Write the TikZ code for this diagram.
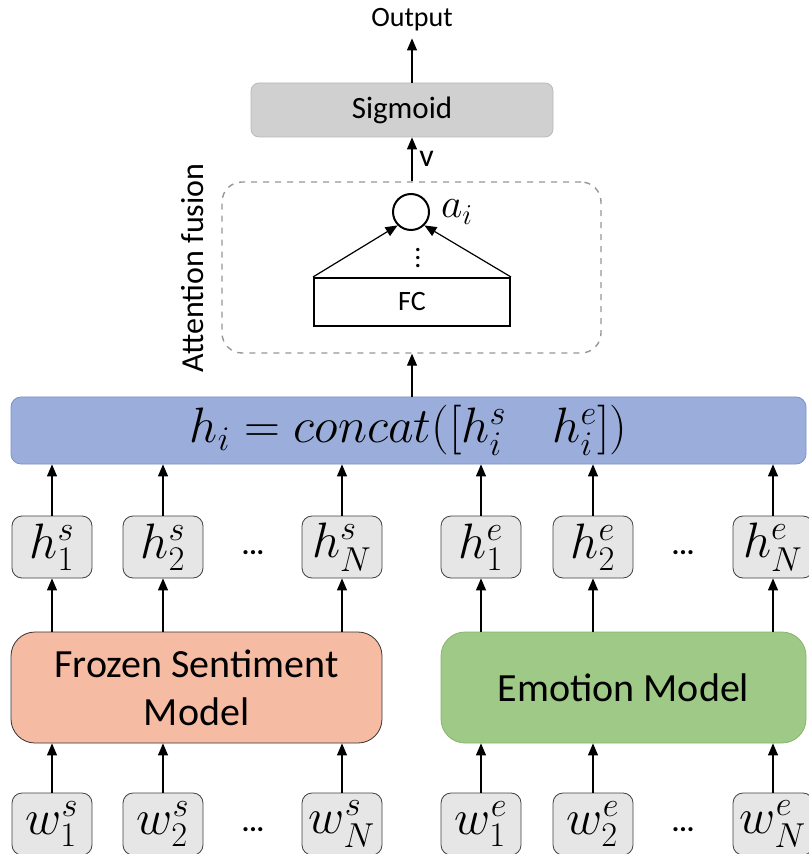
\documentclass[tikz,border=0pt]{standalone}
\usepackage{fontspec}
\setmainfont{Carlito}
\usepackage{amsmath}
\usepackage{tikz}
\usetikzlibrary{arrows, arrows.meta, shapes}

\definecolor{sigfill}{RGB}{208,208,208}
\definecolor{sigline}{RGB}{185,185,185}
\definecolor{catfill}{RGB}{155,174,219}
\definecolor{catline}{RGB}{120,145,205}
\definecolor{sentfill}{RGB}{246,187,163}
\definecolor{emofill}{RGB}{158,201,134}
\definecolor{emoline}{RGB}{135,180,110}
\definecolor{vecfill}{RGB}{230,230,230}
\definecolor{fuseline}{RGB}{150,150,150}

\begin{document}
\begin{tikzpicture}[x=0.5pt,y=-0.5pt]
			\tikzstyle{every node} = [font = \fontsize{14}{16}\selectfont]
			\tikzstyle{vec} = [draw=black!75, fill=vecfill, rounded corners=5pt,
				minimum width=40pt, minimum height=31pt, inner sep=0pt,
				font=\fontsize{23}{25}\selectfont]
			\tikzstyle{model} = [rounded corners=12pt, minimum height=55.5pt,
				inner sep=0pt, align=center, font=\fontsize{20}{24}\selectfont]
			\tikzstyle{conn} = [draw,-{Triangle[length=6pt,width=5pt]},line width=0.6pt]
				\useasboundingbox (0,0) rectangle (808,854);
				% top part
				\node (out) at (412,20) {Output};
				\node[draw=sigline, fill=sigfill, rounded corners=4pt,
					minimum width=151pt, minimum height=27pt,
					font=\fontsize{15.5}{17}\selectfont] (sig) at (402,110) {Sigmoid};
				\node[draw=fuseline, dashed, line width=0.7pt, rounded corners=10pt,
					minimum width=189.5pt, minimum height=85.5pt] (fuse) at (411.5,267.5) {};
				\node[rotate=90, font=\fontsize{16}{18}\selectfont] (att) at (193,268) {Attention fusion};
				\node[draw, circle, line width=1pt, minimum size=18pt, inner sep=0pt] (circ) at (411,212) {};
				\node[right, xshift=2pt, font=\fontsize{22}{24}\selectfont] (ai) at (circ.east) {$a_i$};
				\node (dots) at (418,252) {$\vdots$};
				\node[draw, line width=1pt, fill=white, minimum width=98pt,
					minimum height=24pt] (fc) at (412,302) {FC};
				\node[draw=catline, fill=catfill, rounded corners=5pt,
					minimum width=397.5pt, minimum height=33.5pt,
					font=\fontsize{23}{25}\selectfont] (cat) at (408.5,430.5)
					{$h_i = concat([h_i^s \quad h_i^e])$};
				% hidden vectors
				\node[vec] (hs1) at (52,547) {$h_1^s$};
				\node[vec] (hs2) at (163,547) {$h_2^s$};
				\node (hsdots) at (253,553) {\textbf{...}};
				\node[vec] (hsN) at (342,547) {$h_N^s$};
				\node[vec] (he1) at (481,547) {$h_1^e$};
				\node[vec] (he2) at (593,547) {$h_2^e$};
				\node (hedots) at (683,553) {\textbf{...}};
				\node[vec] (heN) at (773,547) {$h_N^e$};
				% models
				\node[model, draw=black!80, fill=sentfill, minimum width=185.5pt] (sent)
					at (196.5,687.5) {Frozen Sentiment\\Model};
				\node[model, draw=emoline, fill=emofill, minimum width=182.5pt] (emo)
					at (623.5,687.5) {Emotion Model};
				% word inputs
				\node[vec] (ws1) at (52,824) {$w_1^s$};
				\node[vec] (ws2) at (163,824) {$w_2^s$};
				\node (wsdots) at (253,830) {\textbf{...}};
				\node[vec] (wsN) at (342,824) {$w_N^s$};
				\node[vec] (we1) at (481,824) {$w_1^e$};
				\node[vec] (we2) at (593,824) {$w_2^e$};
				\node (wedots) at (683,830) {\textbf{...}};
				\node[vec] (weN) at (773,824) {$w_N^e$};
				% connectors
				\path[conn] (sig.north -| out) -- (out.south);
				\path[conn] (fuse.north -| fc) -- node[right, font=\fontsize{16}{18}\selectfont] {v} (sig.south -| fc);
				\path[conn] (cat.north -| fc) -- (fuse.south -| fc);
				\path[conn] (fc.north west) -- (circ.south west);
				\path[conn] (fc.north east) -- (circ.south east);
				\path[conn] (hs1.north) -- (hs1 |- cat.south);
				\path[conn] (hs2.north) -- (hs2 |- cat.south);
				\path[conn] (hsN.north) -- (hsN |- cat.south);
				\path[conn] (he1.north) -- (he1 |- cat.south);
				\path[conn] (he2.north) -- (he2 |- cat.south);
				\path[conn] (heN.north) -- (heN |- cat.south);
				\path[conn] (sent.north -| hs1) -- (hs1.south);
				\path[conn] (sent.north -| hs2) -- (hs2.south);
				\path[conn] (sent.north -| hsN) -- (hsN.south);
				\path[conn] (emo.north -| he1) -- (he1.south);
				\path[conn] (emo.north -| he2) -- (he2.south);
				\path[conn] (emo.north -| heN) -- (heN.south);
				\path[conn] (ws1.north) -- (ws1 |- sent.south);
				\path[conn] (ws2.north) -- (ws2 |- sent.south);
				\path[conn] (wsN.north) -- (wsN |- sent.south);
				\path[conn] (we1.north) -- (we1 |- emo.south);
				\path[conn] (we2.north) -- (we2 |- emo.south);
				\path[conn] (weN.north) -- (weN |- emo.south);
			\end{tikzpicture}
\end{document}
